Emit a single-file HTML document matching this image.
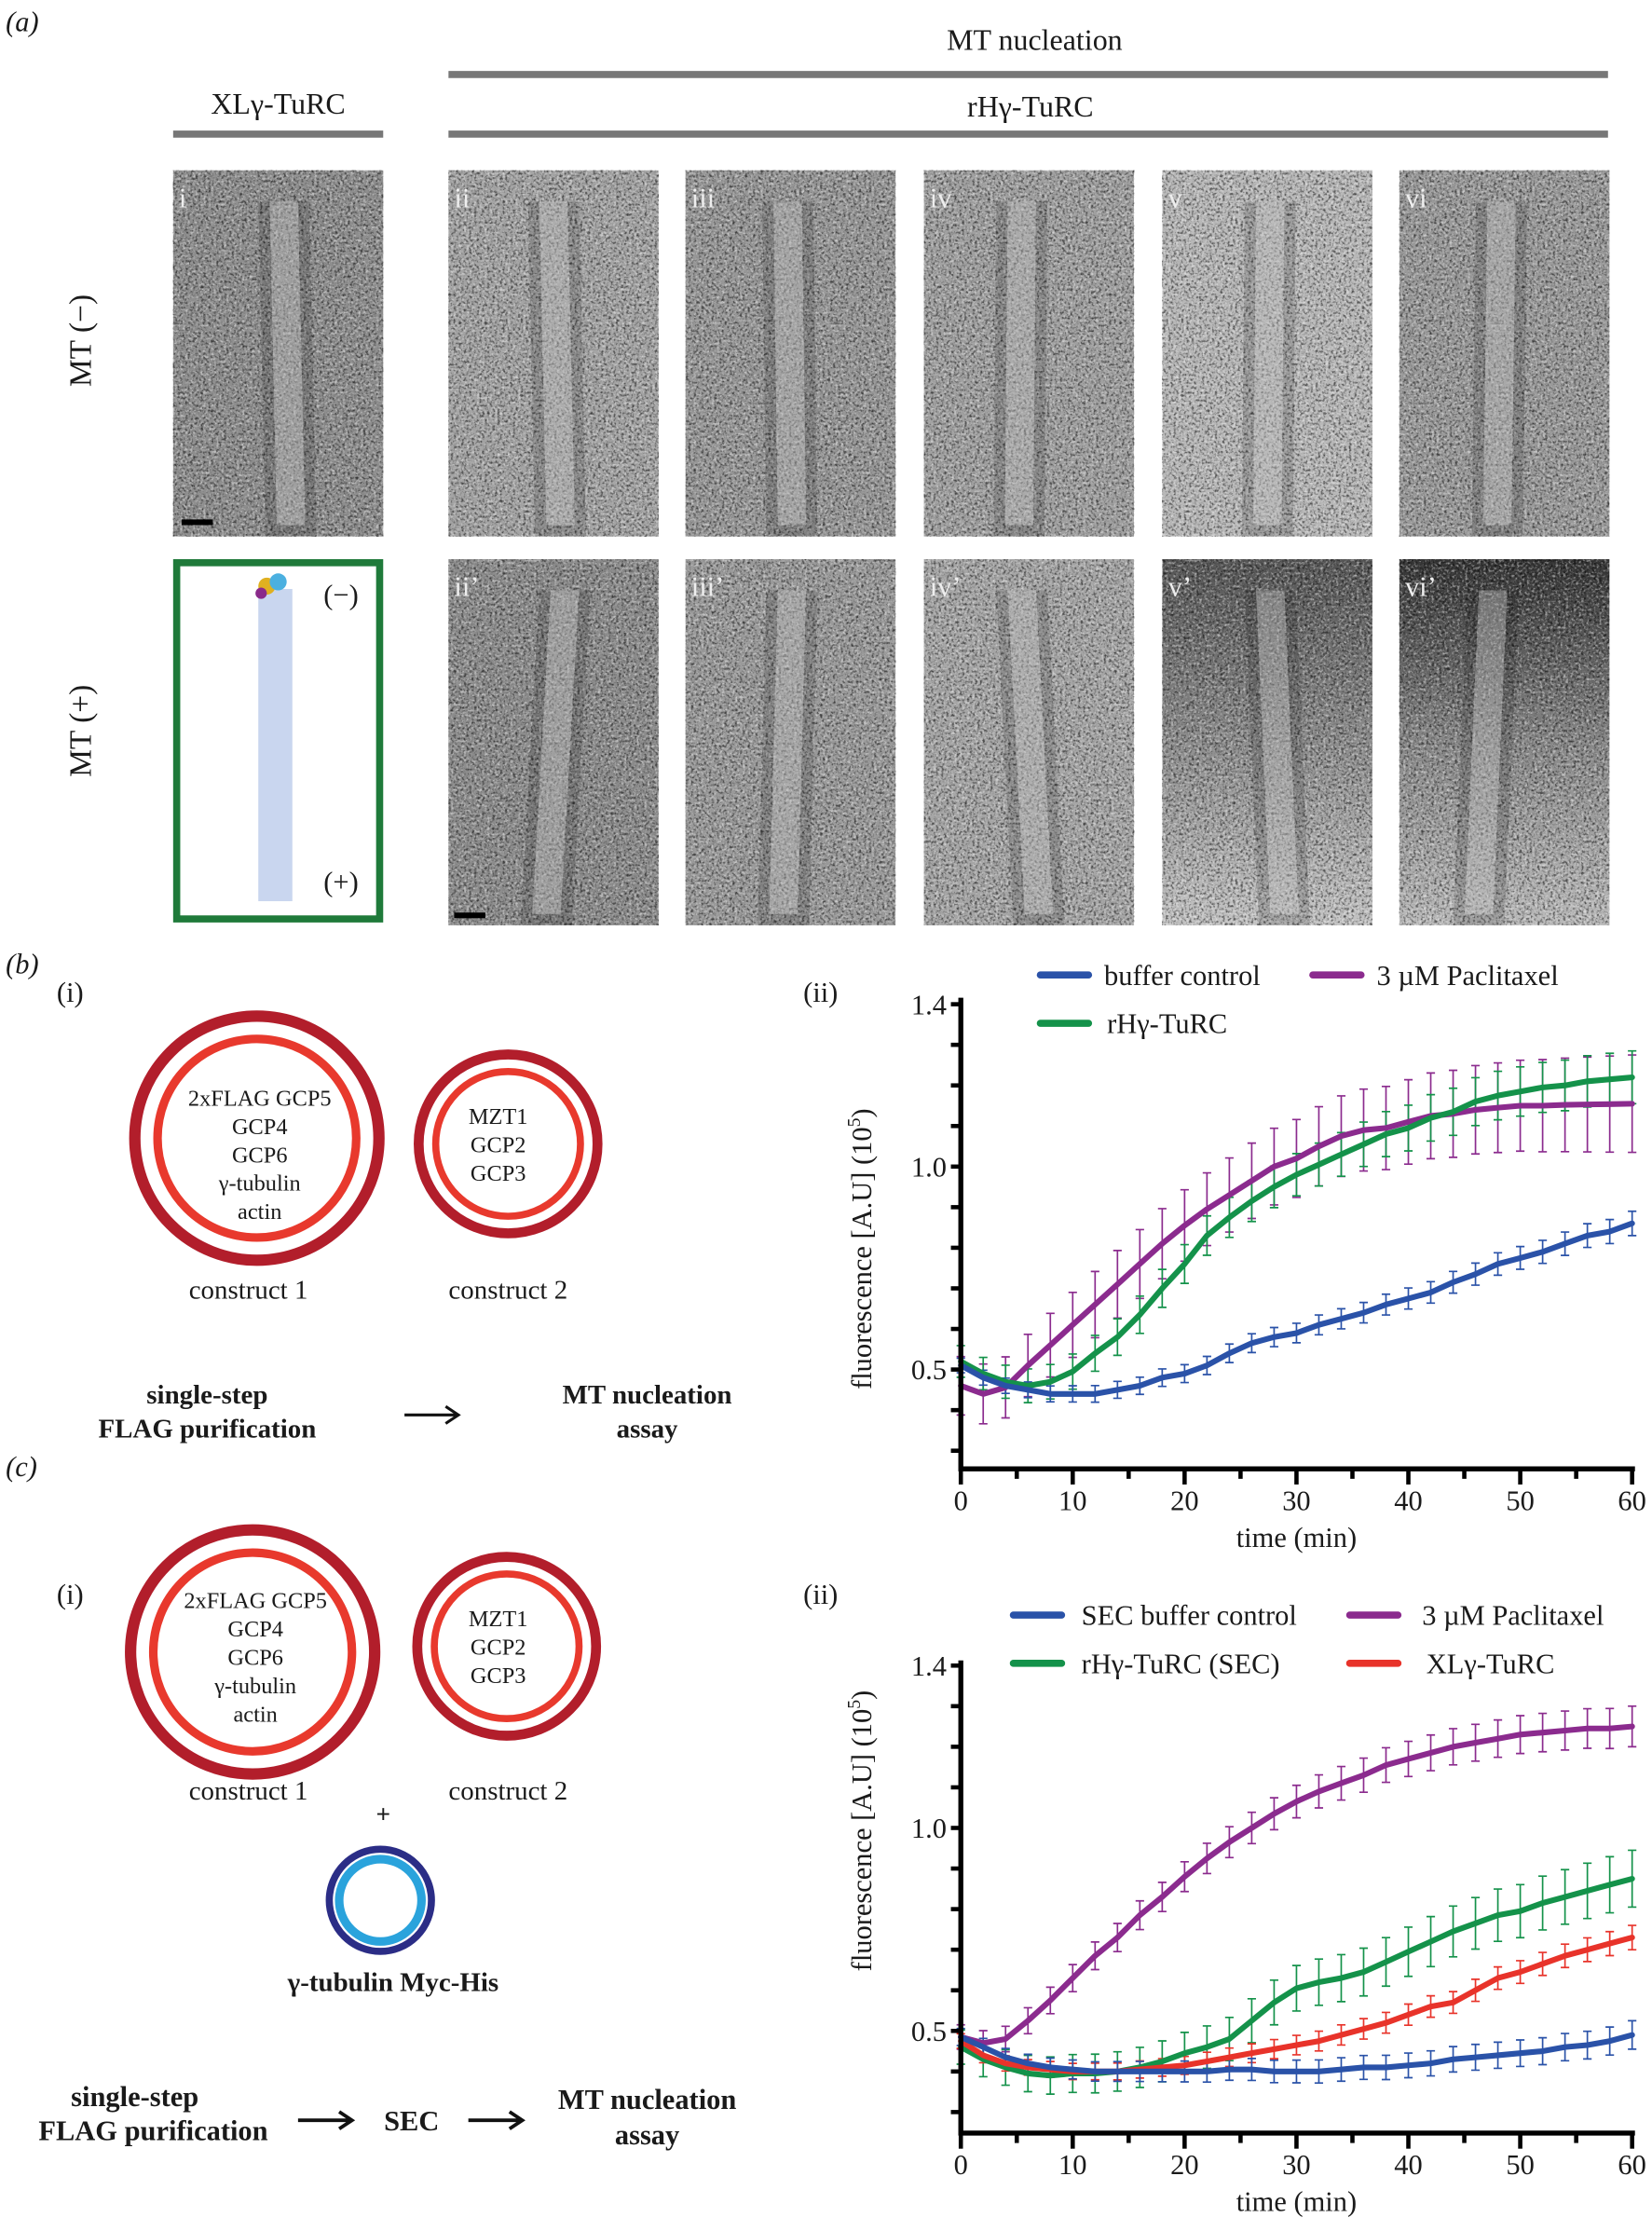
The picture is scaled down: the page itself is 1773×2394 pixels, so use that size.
<!DOCTYPE html>
<html><head><meta charset="utf-8"><style>
html,body{margin:0;padding:0;background:#fff;}
svg{display:block;}
text{font-family:"Liberation Serif",serif;fill:#1a1a1a;}
.b{font-weight:bold;}
</style></head><body>
<svg id="fig" width="1773" height="2394" viewBox="0 0 1164 1572" preserveAspectRatio="none" xmlns="http://www.w3.org/2000/svg">
<defs>
<filter id="noiseDark" x="0" y="0" width="100%" height="100%">
<feTurbulence type="fractalNoise" baseFrequency="0.55" numOctaves="2" seed="3"/>
<feColorMatrix type="matrix" values="0 0 0 0 0  0 0 0 0 0  0 0 0 0 0  3 0 0 0 -1.4"/>
</filter>
<filter id="noiseLight" x="0" y="0" width="100%" height="100%">
<feTurbulence type="fractalNoise" baseFrequency="0.55" numOctaves="2" seed="11"/>
<feColorMatrix type="matrix" values="0 0 0 0 1  0 0 0 0 1  0 0 0 0 1  3 0 0 0 -1.45"/>
</filter>
<linearGradient id="darkTop" x1="0" y1="0" x2="0" y2="1"><stop offset="0" stop-color="#555"/><stop offset="1" stop-color="#c4c4c4"/></linearGradient>
<linearGradient id="darkTop2" x1="0" y1="0" x2="0" y2="1"><stop offset="0" stop-color="#333"/><stop offset="0.5" stop-color="#888"/><stop offset="1" stop-color="#bbb"/></linearGradient>
</defs>

<text x="4" y="22" font-size="20" font-style="italic">(a)</text>
<text x="729" y="35" font-size="21" text-anchor="middle">MT nucleation</text>
<rect x="316" y="50" width="817" height="5" fill="#777"/>
<text x="726" y="82" font-size="21" text-anchor="middle">rHγ-TuRC</text>
<rect x="316" y="92" width="817" height="5" fill="#777"/>
<text x="196" y="80" font-size="21" text-anchor="middle">XLγ-TuRC</text>
<rect x="122" y="92" width="148" height="5" fill="#777"/>
<text transform="translate(64,240) rotate(-90)" font-size="22" text-anchor="middle">MT (−)</text>
<text transform="translate(64,515) rotate(-90)" font-size="22" text-anchor="middle">MT (+)</text>

<g id="em"></g>

<rect x="124.5" y="396.5" width="143" height="251" fill="#fff" stroke="#1f7a3a" stroke-width="5"/>
<rect x="182" y="415" width="24" height="220" fill="#c9d6ef"/>
<circle cx="188" cy="413" r="6" fill="#e0b020"/><circle cx="196" cy="410" r="6" fill="#4bb0e0"/><circle cx="184" cy="418" r="4" fill="#8a2a8a"/>
<text x="228" y="426" font-size="20">(−)</text>
<text x="228" y="628" font-size="20">(+)</text>

<text x="4" y="686" font-size="20" font-style="italic">(b)</text>
<text x="40" y="706" font-size="20">(i)</text>
<g>
<circle cx="181" cy="802" r="86" fill="none" stroke="#b21e2b" stroke-width="8"/>
<circle cx="181" cy="802" r="70" fill="none" stroke="#e8392d" stroke-width="6"/>
<text x="183" y="779" font-size="16" text-anchor="middle">2xFLAG GCP5</text>
<text x="183" y="799" font-size="16" text-anchor="middle">GCP4</text>
<text x="183" y="819" font-size="16" text-anchor="middle">GCP6</text>
<text x="183" y="839" font-size="16" text-anchor="middle">γ-tubulin</text>
<text x="183" y="859" font-size="16" text-anchor="middle">actin</text>
</g>
<text x="175" y="915" font-size="19" text-anchor="middle">construct 1</text>
<g>
<circle cx="358" cy="806" r="63" fill="none" stroke="#b21e2b" stroke-width="7"/>
<circle cx="358" cy="806" r="51" fill="none" stroke="#e8392d" stroke-width="5"/>
<text x="351" y="792" font-size="16" text-anchor="middle">MZT1</text>
<text x="351" y="812" font-size="16" text-anchor="middle">GCP2</text>
<text x="351" y="832" font-size="16" text-anchor="middle">GCP3</text>
</g>
<text x="358" y="915" font-size="19" text-anchor="middle">construct 2</text>
<text class="b" x="146" y="989" font-size="19" text-anchor="middle">single-step</text>
<text class="b" x="146" y="1013" font-size="19" text-anchor="middle">FLAG purification</text>
<path d="M285 997 H322 M314 991 L323 997 L314 1003" stroke="#111" stroke-width="2" fill="none"/>
<text class="b" x="456" y="989" font-size="19" text-anchor="middle">MT nucleation</text>
<text class="b" x="456" y="1013" font-size="19" text-anchor="middle">assay</text>

<text x="4" y="1040" font-size="20" font-style="italic">(c)</text>
<text x="40" y="1130" font-size="20">(i)</text>
<g>
<circle cx="178" cy="1164" r="86" fill="none" stroke="#b21e2b" stroke-width="8"/>
<circle cx="178" cy="1164" r="70" fill="none" stroke="#e8392d" stroke-width="6"/>
<text x="180" y="1133" font-size="16" text-anchor="middle">2xFLAG GCP5</text>
<text x="180" y="1153" font-size="16" text-anchor="middle">GCP4</text>
<text x="180" y="1173" font-size="16" text-anchor="middle">GCP6</text>
<text x="180" y="1193" font-size="16" text-anchor="middle">γ-tubulin</text>
<text x="180" y="1213" font-size="16" text-anchor="middle">actin</text>
</g>
<text x="175" y="1268" font-size="19" text-anchor="middle">construct 1</text>
<g>
<circle cx="357" cy="1160" r="63" fill="none" stroke="#b21e2b" stroke-width="7"/>
<circle cx="357" cy="1160" r="51" fill="none" stroke="#e8392d" stroke-width="5"/>
<text x="351" y="1146" font-size="16" text-anchor="middle">MZT1</text>
<text x="351" y="1166" font-size="16" text-anchor="middle">GCP2</text>
<text x="351" y="1186" font-size="16" text-anchor="middle">GCP3</text>
</g>
<text x="358" y="1268" font-size="19" text-anchor="middle">construct 2</text>
<text x="270" y="1284" font-size="18" text-anchor="middle" class="b">+</text>
<g>
<circle cx="268" cy="1339" r="36" fill="none" stroke="#2b2d86" stroke-width="5"/>
<circle cx="268" cy="1339" r="29" fill="none" stroke="#2aa3dc" stroke-width="6"/>
</g>
<text class="b" x="277" y="1403" font-size="19" text-anchor="middle">γ-tubulin Myc-His</text>
<text class="b" x="95" y="1484" font-size="20" text-anchor="middle">single-step</text>
<text class="b" x="108" y="1508" font-size="20" text-anchor="middle">FLAG purification</text>
<path d="M210 1494 H247 M239 1488 L248 1494 L239 1500" stroke="#111" stroke-width="2.5" fill="none"/>
<text class="b" x="290" y="1501" font-size="20" text-anchor="middle">SEC</text>
<path d="M330 1494 H367 M359 1488 L368 1494 L359 1500" stroke="#111" stroke-width="2.5" fill="none"/>
<text class="b" x="456" y="1486" font-size="20" text-anchor="middle">MT nucleation</text>
<text class="b" x="456" y="1511" font-size="20" text-anchor="middle">assay</text>

<text x="566" y="706" font-size="20">(ii)</text>
<text x="566" y="1130" font-size="20">(ii)</text>
<g id="chartB"></g>
<g id="chartC"></g>
</svg>
<script>
const times = [0,2,4,6,8,10,12,14,16,18,20,22,24,26,28,30,32,34,36,38,40,42,44,46,48,50,52,54,56,58,60];
const xTicks = [0,10,20,30,40,50,60];
const yTickLabels = ['0.5','1.0','1.4'];
const yTickValues = [0.5,1.0,1.4];
const bBuffer = [.51,.48,.46,.45,.44,.44,.44,.45,.46,.48,.49,.51,.54,.565,.58,.59,.61,.625,.64,.66,.675,.69,.715,.735,.76,.775,.79,.81,.83,.84,.86];
const bPaclitaxel = [.46,.44,.456,.51,.56,.61,.66,.71,.76,.81,.855,.895,.93,.965,1.0,1.02,1.05,1.075,1.09,1.095,1.11,1.125,1.13,1.14,1.145,1.15,1.15,1.152,1.153,1.154,1.155];
const bRH = [.52,.49,.47,.46,.47,.495,.54,.58,.635,.70,.76,.83,.875,.915,.95,.98,1.005,1.03,1.055,1.08,1.095,1.12,1.135,1.16,1.175,1.185,1.195,1.20,1.21,1.215,1.22];
const bErr = {buffer:.03, pac:.12, rh:.065};
const cBuffer = [.485,.46,.435,.42,.41,.405,.40,.40,.40,.40,.40,.40,.405,.405,.40,.40,.40,.405,.41,.41,.415,.42,.43,.435,.44,.445,.45,.46,.465,.475,.49];
const cPaclitaxel = [.485,.47,.48,.525,.575,.63,.685,.73,.785,.83,.88,.925,.965,1.0,1.035,1.065,1.09,1.11,1.13,1.155,1.17,1.185,1.20,1.21,1.22,1.23,1.235,1.24,1.245,1.245,1.25];
const cRH = [.46,.43,.41,.395,.39,.395,.395,.40,.41,.425,.445,.46,.48,.525,.57,.605,.62,.63,.645,.67,.695,.72,.745,.765,.785,.795,.815,.83,.845,.86,.875];
const cXL = [.475,.44,.42,.41,.405,.40,.40,.40,.405,.41,.415,.425,.435,.445,.455,.465,.475,.49,.505,.52,.54,.56,.57,.60,.63,.645,.665,.685,.70,.715,.73];
const cErr = {buffer:.035, pac:.05, rh:.07, xl:.03};

const NS='http://www.w3.org/2000/svg';
function mk(tag,attrs,parent){const e=document.createElementNS(NS,tag);for(const k in attrs)e.setAttribute(k,attrs[k]);parent.appendChild(e);return e;}

function chart(g, cfg){
  const X0=677,X1=1150;
  const xs=t=>X0+(t/60)*(X1-X0);
  const ys=v=>cfg.y05-(v-0.5)*cfg.perUnit;
  cfg.series.forEach(s=>{
    const eg=mk('g',{},g);
    
    
    s.vals.forEach((v,i)=>{
      const x=xs(times[i]), e=s.err*(0.6+0.4*times[i]/60);
      const a=ys(v+e), b=ys(v-e);
      mk('path',{d:`M${x} ${a} V${b} M${x-3} ${a} H${x+3} M${x-3} ${b} H${x+3}`,stroke:s.color,'stroke-width':1.1,fill:'none'},eg);
    });
  });
  cfg.series.forEach(s=>{
    const d=s.vals.map((v,i)=>(i?'L':'M')+xs(times[i]).toFixed(1)+' '+ys(v).toFixed(1)).join(' ');
    const p=mk('path',{d:d,stroke:s.color,'stroke-width':4,fill:'none','stroke-linejoin':'round','stroke-linecap':'round'},g);
    
    
  });
  const ax=mk('path',{d:`M${X0} ${cfg.top} V${cfg.bottom} H${X1+2}`,stroke:'#000','stroke-width':3.5,fill:'none'},g);
  
  
  for(let v=cfg.minTick; v<=1.401; v+=0.1){
    mk('path',{d:`M${X0-7} ${ys(v)} H${X0}`,stroke:'#000','stroke-width':3},g);
  }
  yTickValues.forEach((v,i)=>{
    const t=mk('text',{x:X0-10,y:ys(v)+7,'font-size':20,'text-anchor':'end'},g);
    t.textContent=yTickLabels[i];
    
    
  });
  for(let t=0;t<=60;t+=5){
    const major=t%10===0;
    mk('path',{d:`M${xs(t)} ${cfg.bottom} V${cfg.bottom+(major?11:7)}`,stroke:'#000','stroke-width':3},g);
  }
  xTicks.forEach(t=>{
    const tx=mk('text',{x:xs(t),y:cfg.bottom+29,'font-size':20,'text-anchor':'middle'},g);
    tx.textContent=String(t);
    
    
  });
  const xl=mk('text',{x:(X0+X1)/2,y:cfg.bottom+55,'font-size':20,'text-anchor':'middle'},g);
  xl.textContent='time (min)';
  
  
  const yl=mk('text',{transform:`translate(614,${cfg.yMid}) rotate(-90)`,'font-size':20,'text-anchor':'middle'},g);
  yl.innerHTML='fluorescence [A.U] (10<tspan font-size="13" dy="-8">5</tspan><tspan dy="8">)</tspan>';
  
  
  cfg.legend.forEach(L=>{
    const lg=mk('g',{},g);
    
    
    mk('path',{d:`M${L.x} ${L.y} H${L.x+34}`,stroke:L.color,'stroke-width':5,'stroke-linecap':'round'},lg);
    const t=mk('text',{x:L.tx,y:L.y+7,'font-size':20},lg);
    t.textContent=L.label;
  });
}
chart(document.getElementById('chartB'),{
  y05:965, perUnit:286, top:703, bottom:1035, minTick:0.3, yMid:880,
  series:[
    {name:'paclitaxel',color:'#8b2b8e',vals:bPaclitaxel,err:bErr.pac},
    {name:'rh-turc',color:'#14924a',vals:bRH,err:bErr.rh},
    {name:'buffer-control',color:'#2a52a8',vals:bBuffer,err:bErr.buffer}],
  legend:[
    {x:733,y:687,tx:778,color:'#2a52a8',label:'buffer control'},
    {x:925,y:687,tx:970,color:'#8b2b8e',label:'3 µM Paclitaxel'},
    {x:733,y:721,tx:780,color:'#14924a',label:'rHγ-TuRC'}]
});
chart(document.getElementById('chartC'),{
  y05:1431, perUnit:286, top:1170, bottom:1503, minTick:0.3, yMid:1290,
  series:[
    {name:'paclitaxel',color:'#8b2b8e',vals:cPaclitaxel,err:cErr.pac},
    {name:'rh-turc-sec',color:'#14924a',vals:cRH,err:cErr.rh},
    {name:'xl-turc',color:'#e8332a',vals:cXL,err:cErr.xl},
    {name:'sec-buffer-control',color:'#2a52a8',vals:cBuffer,err:cErr.buffer}],
  legend:[
    {x:714,y:1138,tx:762,color:'#2a52a8',label:'SEC buffer control'},
    {x:951,y:1138,tx:1002,color:'#8b2b8e',label:'3 µM Paclitaxel'},
    {x:714,y:1172,tx:762,color:'#14924a',label:'rHγ-TuRC (SEC)'},
    {x:951,y:1172,tx:1005,color:'#e8332a',label:'XLγ-TuRC'}]
});

const emTiles = [
 {n:'i',x:122,y:120,bg:'#8e8e8e',c:200,c2:205},
 {n:'ii',x:316,y:120,bg:'#a4a4a4',c:390,c2:395},
 {n:'iii',x:483,y:120,bg:'#979797',c:555,c2:558},
 {n:'iv',x:651,y:120,bg:'#a0a0a0',c:720,c2:718},
 {n:'v',x:819,y:120,bg:'#b8b8b8',c:895,c2:893},
 {n:'vi',x:986,y:120,bg:'#9a9a9a',c:1058,c2:1055},
 {n:'ii’',x:316,y:394,bg:'#8c8c8c',c:398,c2:385},
 {n:'iii’',x:483,y:394,bg:'#9a9a9a',c:558,c2:552},
 {n:'iv’',x:651,y:394,bg:'#a6a6a6',c:720,c2:732},
 {n:'v’',x:819,y:394,bg:'url(#darkTop)',c:895,c2:905},
 {n:'vi’',x:986,y:394,bg:'url(#darkTop2)',c:1052,c2:1042}
];
const em=document.getElementById('em');
emTiles.forEach(t=>{
  const g=mk('g',{},em);
  
  
  mk('rect',{x:t.x,y:t.y,width:148,height:258,fill:t.bg},g);
  mk('rect',{x:t.x,y:t.y,width:148,height:258,filter:'url(#noiseDark)',opacity:0.6},g);
  mk('rect',{x:t.x,y:t.y,width:148,height:258,filter:'url(#noiseLight)',opacity:0.5},g);
  const top=t.y+22, bot=t.y+258;
  mk('path',{d:`M${t.c-18} ${top} L${t.c+18} ${top} L${t.c2+18} ${bot} L${t.c2-18} ${bot} Z`,fill:'#000',opacity:0.15},g);
  mk('path',{d:`M${t.c-10} ${top} L${t.c+10} ${top} L${t.c2+10} ${bot-8} L${t.c2-10} ${bot-8} Z`,fill:'#fff',opacity:0.3},g);
  const lb=mk('text',{x:t.x+4,y:t.y+26,'font-size':20,style:'fill:#eeeeee'},g);
  lb.textContent=t.n;
});
mk('rect',{x:128,y:366,width:22,height:4,fill:'#000'},em);
mk('rect',{x:320,y:643,width:22,height:4,fill:'#000'},em);
</script>
</body></html>
